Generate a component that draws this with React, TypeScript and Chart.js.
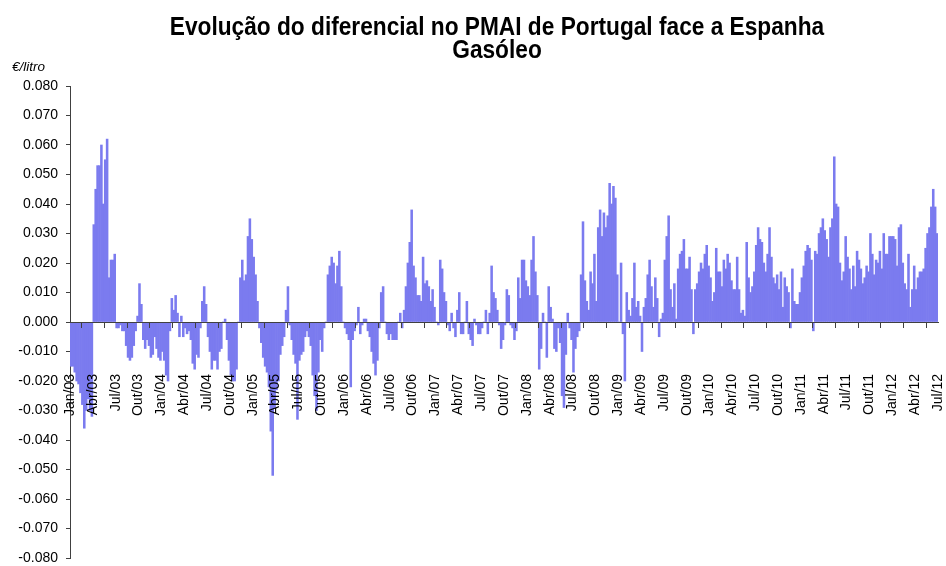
import React, { useEffect, useRef } from "react";
import { Chart, registerables } from "chart.js";

Chart.register(...registerables);

const TITLE_LINES = ["Evolução do diferencial no PMAI de Portugal face a Espanha", "Gasóleo"];
const UNIT_LABEL = "€/litro";

const X_TICK_LABELS = [
  "Jan/03", "Abr/03", "Jul/03", "Out/03",
  "Jan/04", "Abr/04", "Jul/04", "Out/04",
  "Jan/05", "Abr/05", "Jul/05", "Out/05",
  "Jan/06", "Abr/06", "Jul/06", "Out/06",
  "Jan/07", "Abr/07", "Jul/07", "Out/07",
  "Jan/08", "Abr/08", "Jul/08", "Out/08",
  "Jan/09", "Abr/09", "Jul/09", "Out/09",
  "Jan/10", "Abr/10", "Jul/10", "Out/10",
  "Jan/11", "Abr/11", "Jul/11", "Out/11",
  "Jan/12", "Abr/12", "Jul/12",
];

// Differential (€/litro), four readings per month, Jan 2003 .. Jun 2012
const DIF_2003 = [
  -0.015, -0.015, -0.017, -0.020,
  -0.021, -0.024, -0.028, -0.036,
  -0.030, -0.026, -0.030, -0.032,
  0.033, 0.045, 0.053, 0.053,
  0.060, 0.040, 0.055, 0.062,
  0.015, 0.021, 0.021, 0.023,
  -0.002, -0.002, -0.001, -0.003,
  -0.003, -0.008, -0.012, -0.013,
  -0.012, -0.008, -0.003, 0.002,
  0.013, 0.006, -0.006, -0.009,
  -0.006, -0.008, -0.012, -0.011,
  -0.005, -0.009, -0.012, -0.013,
];
const DIF_2004 = [
  -0.010, -0.013, -0.018, -0.020,
  -0.003, 0.008, 0.004, 0.009,
  0.003, -0.005, 0.002, -0.005,
  -0.002, -0.004, -0.003, -0.006,
  -0.014, -0.016, -0.011, -0.012,
  -0.002, 0.007, 0.012, 0.006,
  -0.005, -0.010, -0.016, -0.013,
  -0.013, -0.016, -0.010, -0.009,
  0.000, 0.001, -0.006, -0.013,
  -0.018, -0.020, -0.020, -0.016,
  0.000, 0.015, 0.021, 0.014,
  0.016, 0.029, 0.035, 0.028,
];
const DIF_2005 = [
  0.022, 0.016, 0.007, -0.002,
  -0.007, -0.012, -0.015, -0.017,
  -0.022, -0.037, -0.052, -0.029,
  -0.023, -0.020, -0.011, -0.008,
  -0.005, 0.004, 0.012, -0.001,
  -0.006, -0.011, -0.014, -0.033,
  -0.013, -0.011, -0.010, -0.005,
  -0.003, -0.005, -0.008, -0.018,
  -0.025, -0.030, -0.017, -0.006,
  -0.010, -0.002, 0.000, 0.016,
  0.019, 0.022, 0.020, 0.013,
  0.019, 0.024, 0.012, 0.000,
];
const DIF_2006 = [
  -0.002, -0.004, -0.006, -0.022,
  -0.006, -0.003, -0.001, 0.005,
  -0.004, -0.001, 0.001, 0.001,
  -0.003, -0.005, -0.010, -0.014,
  -0.018, -0.013, -0.002, 0.010,
  0.012, 0.000, -0.004, -0.006,
  -0.004, -0.006, -0.006, -0.006,
  0.000, 0.003, -0.002, 0.004,
  0.012, 0.020, 0.027, 0.038,
  0.019, 0.015, 0.009, 0.009,
  0.007, 0.022, 0.013, 0.014,
  0.012, 0.007, 0.011, 0.005,
];
const DIF_2007 = [
  0.000, -0.001, 0.021, 0.018,
  0.010, 0.007, -0.001, -0.003,
  0.003, -0.002, -0.005, 0.004,
  0.010, -0.004, -0.004, 0.000,
  0.007, -0.004, -0.006, -0.008,
  0.001, -0.001, -0.004, -0.004,
  -0.002, 0.000, 0.004, -0.004,
  0.003, 0.019, 0.010, 0.008,
  0.004, -0.001, -0.009, -0.006,
  -0.001, 0.011, 0.009, -0.001,
  -0.002, -0.006, -0.003, 0.015,
  0.008, 0.021, 0.021, 0.014,
];
const DIF_2008 = [
  0.012, 0.009, 0.021, 0.029,
  0.017, 0.009, -0.016, -0.009,
  0.003, 0.000, -0.012, 0.012,
  0.005, 0.001, -0.009, -0.010,
  -0.002, -0.007, -0.025, -0.029,
  -0.011, 0.003, -0.002, -0.006,
  -0.017, -0.009, -0.005, -0.003,
  0.016, 0.034, 0.014, 0.007,
  0.004, 0.017, 0.013, 0.023,
  0.007, 0.032, 0.038, 0.029,
  0.037, 0.032, 0.036, 0.047,
  0.040, 0.046, 0.042, 0.016,
];
const DIF_2009 = [
  0.000, 0.020, -0.004, -0.020,
  0.010, 0.004, 0.002, 0.008,
  0.020, 0.005, 0.007, 0.002,
  -0.010, 0.005, 0.008, 0.016,
  0.021, 0.012, 0.005, 0.015,
  0.008, -0.005, 0.001, 0.003,
  0.021, 0.029, 0.036, 0.011,
  0.005, 0.013, 0.001, 0.018,
  0.023, 0.024, 0.028, 0.018,
  0.018, 0.022, 0.011, -0.004,
  0.011, 0.013, 0.017, 0.020,
  0.018, 0.023, 0.026, 0.019,
];
const DIF_2010 = [
  0.015, 0.007, 0.010, 0.025,
  0.017, 0.017, 0.012, 0.021,
  0.018, 0.023, 0.020, 0.014,
  0.011, 0.011, 0.022, 0.011,
  0.003, 0.004, 0.002, 0.027,
  0.015, 0.010, 0.012, 0.017,
  0.026, 0.032, 0.028, 0.027,
  0.020, 0.017, 0.023, 0.032,
  0.022, 0.015, 0.013, 0.016,
  0.011, 0.017, 0.005, 0.015,
  0.012, 0.010, -0.002, 0.018,
  0.007, 0.006, 0.006, 0.010,
];
const DIF_2011 = [
  0.015, 0.019, 0.024, 0.026,
  0.025, 0.021, -0.003, 0.024,
  0.023, 0.030, 0.032, 0.035,
  0.031, 0.028, 0.022, 0.032,
  0.035, 0.056, 0.040, 0.039,
  0.020, 0.014, 0.017, 0.029,
  0.022, 0.018, 0.011, 0.019,
  0.012, 0.024, 0.021, 0.018,
  0.013, 0.015, 0.019, 0.017,
  0.030, 0.023, 0.016, 0.021,
  0.020, 0.024, 0.018, 0.030,
  0.023, 0.023, 0.029, 0.029,
];
const DIF_2012 = [
  0.029, 0.028, 0.019, 0.032,
  0.033, 0.020, 0.013, 0.011,
  0.023, 0.005, 0.011, 0.019,
  0.011, 0.015, 0.017, 0.017,
  0.018, 0.025, 0.030, 0.032,
  0.039, 0.045, 0.039, 0.030,
];

const PER_MONTH = 4;
const TOTAL_MONTHS = 114;
const BAR_COLOR = "#7b7bef";
const AXIS_COLOR = "#404040";
const FONT = '"Liberation Sans", Arial, Helvetica, sans-serif';

const textPlugin = {
  id: "headerText",
  afterDraw(chart: any) {
    const ctx = chart.ctx;
    const sy = 1.12;
    ctx.save();
    ctx.fillStyle = "#000";
    ctx.textBaseline = "alphabetic";
    ctx.textAlign = "center";
    ctx.font = `bold 22.7px ${FONT}`;
    ctx.save();
    ctx.scale(1, sy);
    ctx.fillText(TITLE_LINES[0], 497, 35 / sy);
    ctx.fillText(TITLE_LINES[1], 497, 58 / sy);
    ctx.restore();
    ctx.textAlign = "left";
    ctx.font = `italic 13.5px ${FONT}`;
    ctx.fillText(UNIT_LABEL, 12, 71);
    ctx.restore();
  },
};

export default function App() {
  const ref = useRef<HTMLCanvasElement | null>(null);

  useEffect(() => {
    const all = [
      ...DIF_2003, ...DIF_2004, ...DIF_2005, ...DIF_2006, ...DIF_2007,
      ...DIF_2008, ...DIF_2009, ...DIF_2010, ...DIF_2011, ...DIF_2012,
    ];
    const points = all.map((v, i) => ({ x: (i + 0.5) / PER_MONTH, y: v }));
    Chart.defaults.font.family = FONT;
    const chart = new Chart(ref.current as HTMLCanvasElement, {
      type: "bar",
      data: {
        datasets: [
          {
            data: points as any,
            backgroundColor: BAR_COLOR,
            borderWidth: 0,
            barPercentage: 1,
            categoryPercentage: 1,
          },
        ],
      },
      options: {
        animation: false,
        responsive: false,
        devicePixelRatio: 1,
        layout: { padding: { left: 0, right: 8, top: 86, bottom: 8 } },
        plugins: { legend: { display: false }, tooltip: { enabled: false }, title: { display: false } },
        scales: {
          x: {
            type: "linear",
            min: 0,
            max: TOTAL_MONTHS,
            offset: false,
            position: { y: 0 } as any,
            border: { display: true, color: AXIS_COLOR, width: 1, z: 1 } as any,
            grid: { display: true, drawOnChartArea: false, drawTicks: true, tickLength: 5, tickColor: AXIS_COLOR, z: 1 } as any,
            ticks: {
              stepSize: 3,
              autoSkip: false,
              maxRotation: 90,
              minRotation: 90,
              padding: 47,
              color: "#000",
              font: { size: 14 },
              z: 1,
              callback: (v: any) => X_TICK_LABELS[Math.round(Number(v) / 3)] ?? "",
            },
            afterFit: (s: any) => {
              s.paddingLeft = 0;
              s.paddingRight = 0;
              s.paddingTop = 0;
              s.paddingBottom = 0;
            },
          },
          y: {
            type: "linear",
            min: -0.08,
            max: 0.08,
            position: "left",
            border: { display: true, color: AXIS_COLOR, width: 1 },
            grid: { drawOnChartArea: false, drawTicks: true, tickLength: 4, tickColor: AXIS_COLOR },
            ticks: {
              stepSize: 0.01,
              padding: 8,
              color: "#000",
              font: { size: 14 },
              callback: (v: any) => (Math.abs(Number(v)) < 1e-9 ? "0.000" : Number(v).toFixed(3)),
            },
            afterFit: (s: any) => {
              s.width = 70;
              s.paddingTop = 0;
              s.paddingBottom = 0;
            },
          },
        },
      },
      plugins: [textPlugin],
    });
    return () => chart.destroy();
  }, []);

  return (
    <div style={{ position: "fixed", left: 0, top: 0, width: 946, height: 566, background: "#fff" }}>
      <canvas ref={ref} width={946} height={566} style={{ width: 946, height: 566, display: "block" }} />
    </div>
  );
}
